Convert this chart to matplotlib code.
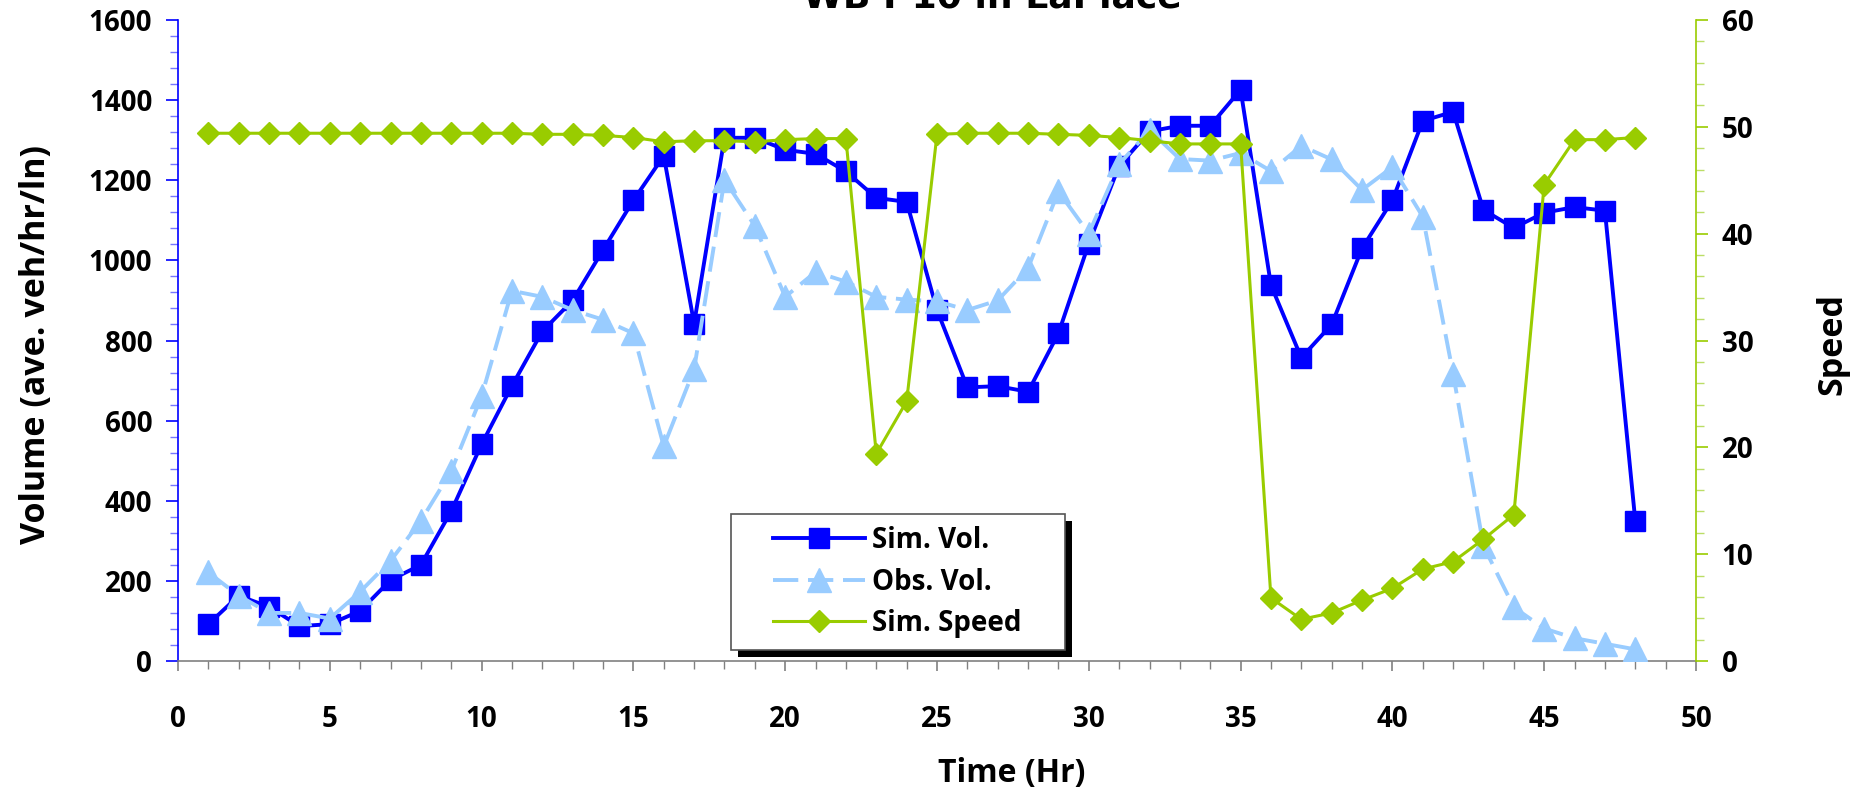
import matplotlib
matplotlib.use("Agg")
import matplotlib.pyplot as plt
from matplotlib.patches import Rectangle
from matplotlib.ticker import MultipleLocator

hours = list(range(1, 49))
sim_vol = [92, 163, 135, 87, 92, 125, 202, 240, 374, 541, 687, 823, 900, 1026, 1150, 1261,
           842, 1306, 1306, 1276, 1266, 1222, 1156, 1146, 876, 683, 686, 672, 818, 1042,
           1236, 1322, 1336, 1336, 1426, 938, 757, 840, 1030, 1150, 1348, 1371, 1126, 1081,
           1119, 1133, 1124, 350]
obs_vol = [221, 163, 120, 120, 106, 173, 250, 350, 474, 661, 924, 909, 876, 852, 818, 536,
           728, 1201, 1086, 909, 971, 947, 909, 902, 898, 876, 900, 981, 1172, 1067,
           1240, 1325, 1253, 1249, 1268, 1223, 1286, 1252, 1176, 1233, 1109, 717, 287, 134,
           81, 57, 43, 29]
sim_speed = [49.4, 49.4, 49.4, 49.4, 49.4, 49.4, 49.4, 49.4, 49.4, 49.4, 49.4, 49.3, 49.3,
             49.2, 49.0, 48.6, 48.7, 48.7, 48.6, 48.8, 48.9, 48.9, 19.4, 24.3, 49.3, 49.4,
             49.4, 49.4, 49.3, 49.2, 49.0, 48.7, 48.4, 48.4, 48.4, 5.9, 3.9, 4.5, 5.7, 6.8,
             8.6, 9.3, 11.4, 13.7, 44.6, 48.8, 48.8, 49.0]

BLUE = "#0000FF"
LIGHT = "#99CCFF"
GREEN = "#99CC00"
GRAY = "#808080"

plt.rcParams["font.family"] = ["Open Sans", "DejaVu Sans"]
plt.rcParams["font.weight"] = "bold"

fig = plt.figure(figsize=(18.62, 7.94), dpi=100)
ax = fig.add_axes([178 / 1862, 1 - 661 / 794, 1518 / 1862, 641 / 794])
ax2 = ax.twinx()

ax.plot(hours, sim_vol, color=BLUE, lw=2.8, marker="s", ms=14, mec=BLUE, mfc=BLUE,
        label="Sim. Vol.", zorder=3)
ax.plot(hours, obs_vol, color=LIGHT, lw=2.8, ls=(0, (6.5, 2.5)), marker="^", ms=17,
        mec=LIGHT, mfc=LIGHT, label="Obs. Vol.", zorder=4)
ax2.plot(hours, sim_speed, color=GREEN, lw=2.2, marker="D", ms=11, mec=GREEN, mfc=GREEN,
         label="Sim. Speed", zorder=3)

ax.set_xlim(0, 50)
ax.set_ylim(0, 1600)
ax2.set_ylim(0, 60)
ax.xaxis.set_major_locator(MultipleLocator(5))
ax.xaxis.set_minor_locator(MultipleLocator(1))
ax.yaxis.set_major_locator(MultipleLocator(200))
ax.yaxis.set_minor_locator(MultipleLocator(40))
ax2.yaxis.set_major_locator(MultipleLocator(10))
ax2.yaxis.set_minor_locator(MultipleLocator(2))

for s in ["top", "right"]:
    ax.spines[s].set_visible(False)
for s in ["top", "left", "bottom"]:
    ax2.spines[s].set_visible(False)
ax.spines["left"].set_color(BLUE)
ax.spines["bottom"].set_color(GRAY)
ax2.spines["right"].set_color(GREEN)
ax.spines["left"].set_linewidth(1.2)
ax.spines["bottom"].set_linewidth(1.2)
ax2.spines["right"].set_linewidth(1.2)

ax.tick_params(axis="y", which="major", direction="out", length=8.5, width=1.2, color=BLUE,
               labelsize=20, pad=10)
ax.tick_params(axis="y", which="minor", direction="out", length=6, width=1, color="#7777FF")
ax.tick_params(axis="x", which="major", direction="out", length=7.5, width=1.2, color=GRAY,
               labelsize=20, pad=24)
ax.tick_params(axis="x", which="minor", direction="out", length=6, width=1, color=GRAY)
ax2.tick_params(axis="y", which="major", direction="out", length=8.5, width=1.2, color=GREEN,
                labelsize=20, pad=10)
ax2.tick_params(axis="y", which="minor", direction="out", length=6, width=1, color="#BBDD66")

for lab in ax.get_xticklabels() + ax.get_yticklabels() + ax2.get_yticklabels():
    lab.set_fontweight("bold")

ax.set_xlabel("Time (Hr)", fontsize=23, fontweight="bold")
ax.xaxis.set_label_coords((1012 - 178) / 1518, -0.150)
ax.set_ylabel("Volume (ave. veh/hr/ln)", fontsize=24.5, fontweight="bold")
ax.yaxis.set_label_coords((53 - 178) / 1518, 0.494)
ax2.set_ylabel("Speed", fontsize=24.5, fontweight="bold")
ax2.yaxis.set_label_coords((1815 - 178) / 1518, 0.494)

fig.text(992 / 1862, 1 - 7 / 794, "WB I-10 in LaPlace", ha="center", va="baseline",
         fontsize=26, fontweight="bold", family="DejaVu Sans")

# legend box with hard shadow
bx, by, bw, bh = 0.364, 0.017, 0.22, 0.212
ax2.add_patch(Rectangle((bx + 7 / 1518, by - 7 / 641), bw, bh, transform=ax2.transAxes,
                        facecolor="black", edgecolor="none", zorder=10, clip_on=False))
ax2.add_patch(Rectangle((bx, by), bw, bh, transform=ax2.transAxes, facecolor="white",
                        edgecolor="#555555", lw=1.2, zorder=11, clip_on=False))
h1, l1 = ax.get_legend_handles_labels()
h2, l2 = ax2.get_legend_handles_labels()
leg = ax2.legend(h1 + h2, l1 + l2, loc="center", bbox_to_anchor=(bx + bw / 2, by + bh / 2),
                 frameon=False, fontsize=20, handlelength=3.3, handletextpad=0.25,
                 labelspacing=0.45, borderaxespad=0)
leg.set_zorder(12)
for t in leg.get_texts():
    t.set_fontweight("bold")

fig.savefig("out.png", dpi=100)
